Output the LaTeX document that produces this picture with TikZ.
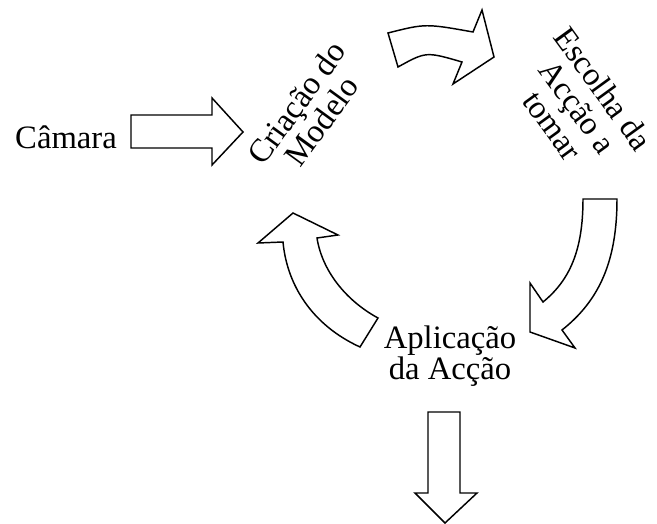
\documentclass[tikz,border=0pt]{standalone}
\usepackage{fontspec}
\setmainfont{Liberation Serif}
\usepackage{tikz}

\tikzset{
  label/.style={inner sep=0pt, align=center, font=\fontsize{24.5}{23.5}\selectfont},
  blockarrow/.style={draw, fill=white, line width=1.1pt, line join=miter}
}

\begin{document}
\begin{tikzpicture}[x=0.75pt, y=-0.75pt]
    \useasboundingbox (0,0) rectangle (657,524);

    % textos das etapas
    \node[label] (camara) at (66,137) {Câmara};
    \node[label, rotate=54] (modelo) at (309,112) {Criação do\\Modelo};
    \node[label, rotate=-54] (escolha) at (578,107) {Escolha da\\Acção a\\tomar};
    \node[label] (aplicacao) at (450,356) {Aplicação\\da Acção};

    % seta da câmara (recta)
    \draw[blockarrow] (131,115) -- (212,115) -- (212,98) -- (243,132)
        -- (212,165) -- (212,148) -- (131,148) -- cycle;

    % seta curva de cima
    \draw[blockarrow] (388,33) .. controls (425.5,23.5) .. (473,32)
        -- (482,10) -- (494,57) -- (453,84) -- (462,62)
        .. controls (426,51.5) .. (398,67) -- cycle;

    % seta curva da direita
    \draw[blockarrow] (583,199) -- (617,199)
        .. controls (617,260) and (600,300) .. (562,330)
        -- (575,348) -- (530,332) -- (530,283) -- (543,302)
        .. controls (570,280) and (583,250) .. (583,199) -- cycle;

    % seta curva da esquerda
    \draw[blockarrow] (378,318) .. controls (345,300) and (322,270) .. (317,238)
        -- (338,235) -- (293,213) -- (258,243) -- (283,242)
        .. controls (287,285) and (312,325) .. (360,347) -- cycle;

    % seta de saída (para baixo)
    \draw[blockarrow] (428,412) -- (460,412) -- (460,493) -- (477,493)
        -- (445,523) -- (415,493) -- (428,493) -- cycle;
\end{tikzpicture}
\end{document}
